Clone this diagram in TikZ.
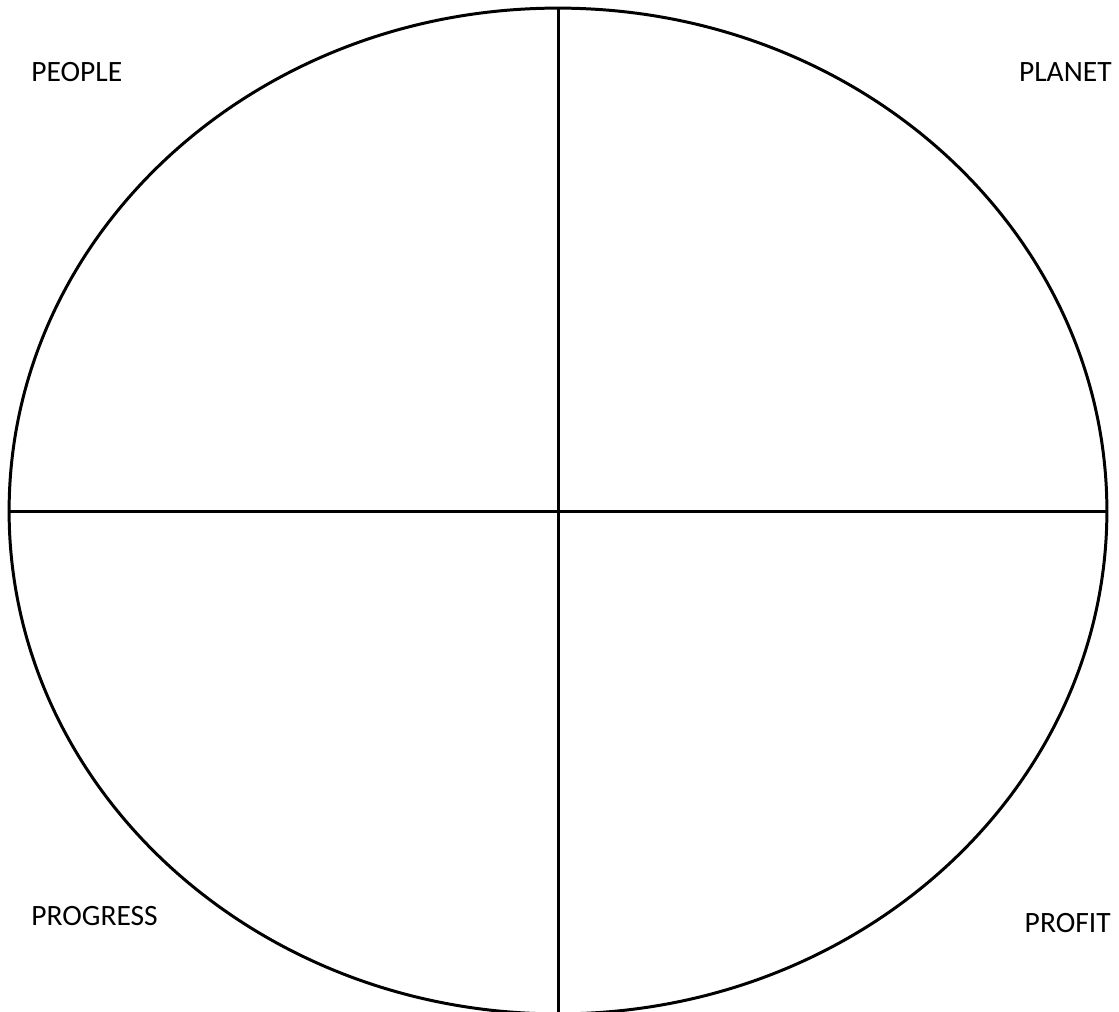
\documentclass[tikz,border=0pt]{standalone}
\usepackage{fontspec}
\setmainfont{Carlito}
\usetikzlibrary{shapes.geometric,positioning}

\begin{document}
\begin{tikzpicture}[x=0.02cm,y=-0.02cm,
  quad/.style={font=\fontsize{16.8}{20}\selectfont,inner sep=0pt}]
\useasboundingbox (0,0) rectangle (1119,1011);
\node[draw,ellipse,line width=1.7pt,inner sep=0pt,minimum width=21.96cm,minimum height=20.12cm] (ring) at (558,511) {};
\draw[line width=1.7pt] (ring.north)--(ring.south);\draw[line width=1.7pt] (ring.west)--(ring.east);
\node[quad,anchor=base west] (people) at (31,81) {PEOPLE};
\node[quad,anchor=base east] (planet) at (1112,81) {PLANET};
\node[quad,anchor=base west] (progress) at (31,925) {PROGRESS};
\node[quad,anchor=base east] (profit) at (1111,932) {PROFIT};
\end{tikzpicture}
\end{document}
